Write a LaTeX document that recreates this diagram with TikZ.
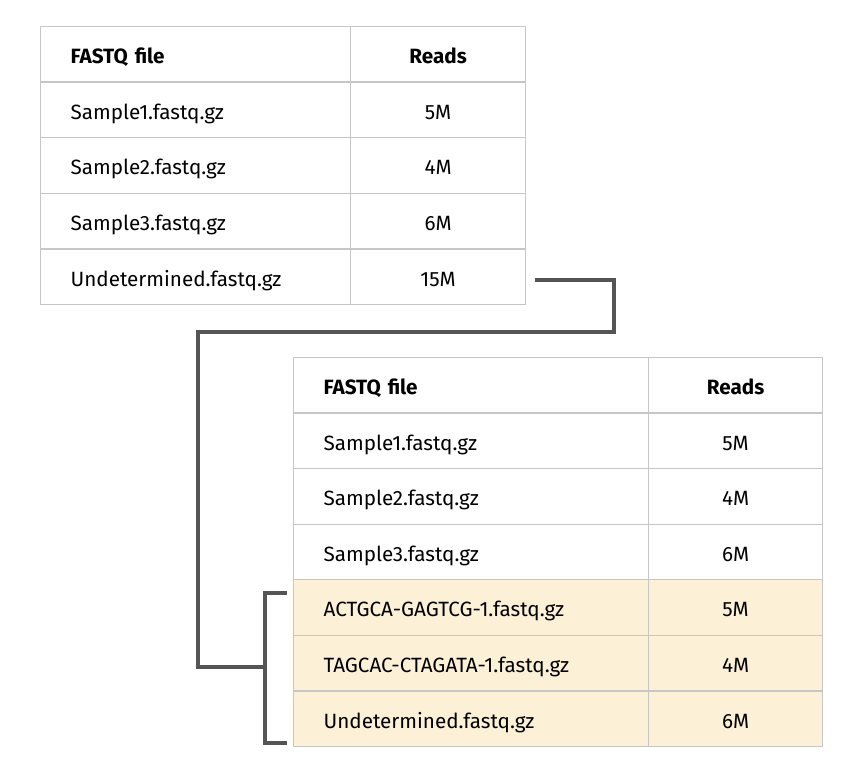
\documentclass[tikz,border=0pt]{standalone}
\usepackage{fontspec}
\setmainfont{Fira Sans}
\definecolor{gridgray}{HTML}{C6C6C6}
\definecolor{linkgray}{HTML}{555555}
\definecolor{hilite}{HTML}{FCF1D6}
\tikzset{
  cell/.style={draw=gridgray, line width=0.9pt, anchor=north west, inner sep=0pt,
    text height=16pt, text depth=2pt, font=\fontsize{15.5}{17}\selectfont},
  namecell/.style={cell, align=left, text width=#1-45pt, inner xsep=22.5pt, minimum height=41.6pt},
  readcell/.style={cell, align=center, text width=#1, minimum height=41.6pt},
  link/.style={draw=linkgray, line width=2.6pt}
}
\begin{document}
\begin{tikzpicture}[x=0.75pt,y=-0.75pt]
  \useasboundingbox (0,0) rectangle (850,779);
  % First table: rows start at y=26, height 55.5px
  \foreach \txt/\rd [count=\r from 0] in {{\textbf{FASTQ file}}/{\textbf{Reads}},
      Sample1.fastq.gz/5M, Sample2.fastq.gz/4M, Sample3.fastq.gz/6M,
      Undetermined.fastq.gz/15M} {
    \pgfmathsetmacro{\yy}{26+55.6*\r}
    \node[namecell=232.5pt] (a-\r-1) at (40,\yy) {\txt};
    \node[readcell=131.25pt] (a-\r-2) at (350,\yy) {\rd};
  }
  % Second table: the last three rows are highlighted
  \foreach \txt/\rd/\bg [count=\r from 0] in {{\textbf{FASTQ file}}/{\textbf{Reads}}/white,
      Sample1.fastq.gz/5M/white, Sample2.fastq.gz/4M/white, Sample3.fastq.gz/6M/white,
      ACTGCA-GAGTCG-1.fastq.gz/5M/hilite, TAGCAC-CTAGATA-1.fastq.gz/4M/hilite,
      Undetermined.fastq.gz/6M/hilite} {
    \pgfmathsetmacro{\yy}{357+55.57*\r}
    \node[namecell=266.25pt, fill=\bg] (b-\r-1) at (293,\yy) {\txt};
    \node[readcell=130.5pt, fill=\bg] (b-\r-2) at (648,\yy) {\rd};
  }
  % Bracket around the new rows
  \coordinate (br-top) at (287,593);
  \coordinate (br-bot) at (287,743);
  \coordinate (br-mid) at (265,667);
  \draw[link] (br-top) -- (265,593) -- (265,743) -- (br-bot);
  % Connector from the undetermined row to the bracket
  \coordinate (from) at (535,280);
  \draw[link] (from) -- (614,280) -- (614,332) -- (198,332) -- (198,667) -- (br-mid);
\end{tikzpicture}
\end{document}
